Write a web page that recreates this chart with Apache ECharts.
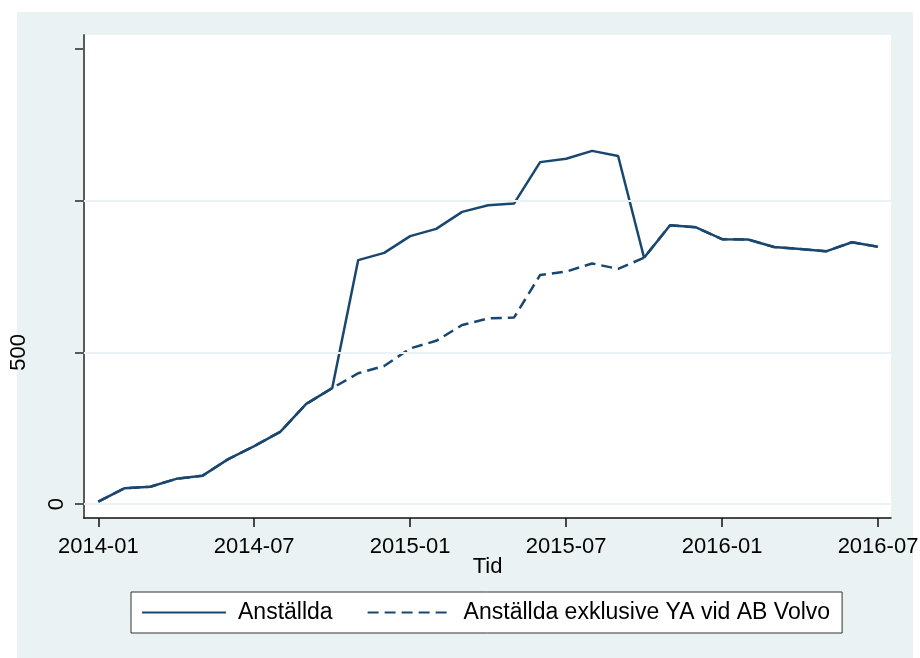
<!DOCTYPE html>
<html>
<head>
<meta charset="utf-8">
<script src="https://cdn.jsdelivr.net/npm/echarts@6/dist/echarts.min.js"></script>
<style>
    html, body {
        margin: 0;
        padding: 0;
        background: #ffffff;
    }
    #bg {
        position: absolute;
        left: 17px;
        top: 12px;
        width: 896px;
        height: 646px;
        background: #eaf2f3;
    }
    #chart {
        position: absolute;
        left: 0;
        top: 0;
        width: 920px;
        height: 658px;
    }
</style>
</head>
<body>
<div id="bg"></div>
<div id="chart"></div>
<script>
// månader, index 0 = 2014-01
const months = [
    '2014-01', '2014-02', '2014-03', '2014-04', '2014-05', '2014-06',
    '2014-07', '2014-08', '2014-09', '2014-10', '2014-11', '2014-12',
    '2015-01', '2015-02', '2015-03', '2015-04', '2015-05', '2015-06',
    '2015-07', '2015-08', '2015-09', '2015-10', '2015-11', '2015-12',
    '2016-01', '2016-02', '2016-03', '2016-04', '2016-05', '2016-06',
    '2016-07'
]
const anstallda = [
    8, 52, 57, 83, 93, 148, 191, 238, 330, 382, 804, 828,
    883, 907, 963, 985, 991, 1127, 1138, 1164, 1147, 812, 919, 912,
    873, 872, 847, 841, 833, 863, 848
]
const exklVolvo = [
    8, 52, 57, 83, 93, 148, 191, 238, 330, 382, 431, 455,
    513, 538, 590, 612, 615, 755, 766, 793, 775, 812, 919, 912,
    873, 872, 847, 841, 833, 863, 848
]
const xTicks = [0, 6, 12, 18, 24, 30]
const yTicks = [0, 500, 1000, 1500]
const yLabels = [0]
const yLabelsFar = [500]
const gridValues = [0, 500, 1000]
const seriesNames = ['Anställda', 'Anställda exklusive YA vid AB Volvo']

const navy = '#1a476f'
const font = 'Liberation Sans, Arial, sans-serif'

const toPairs = arr => arr.map((v, i) => [i, v])

const yRange = { min: -46, max: 1546 }

const option = {
    animation: false,
    textStyle: { fontFamily: font },
    grid: {
        show: true,
        backgroundColor: '#ffffff',
        borderWidth: 0,
        left: 84,
        top: 35,
        width: 807,
        height: 483,
        containLabel: false,
        outerBoundsMode: 'none'
    },
    legend: {
        left: 131,
        top: 592,
        padding: [9, 12, 9, 10],
        backgroundColor: '#ffffff',
        borderColor: '#333333',
        borderWidth: 1,
        borderRadius: 0,
        itemWidth: 84,
        itemHeight: 20,
        itemGap: 34,
        itemStyle: { opacity: 0 },
        textStyle: {
            fontFamily: font,
            fontSize: 23,
            color: '#000000',
            padding: [0, 0, 0, 7]
        },
        data: seriesNames
    },
    xAxis: {
        type: 'value',
        min: -0.55,
        max: 30.5,
        name: 'Tid',
        nameLocation: 'middle',
        nameGap: 38,
        nameMoveOverlap: false,
        nameTextStyle: { fontFamily: font, fontSize: 22, color: '#000000' },
        splitLine: { show: false },
        axisLine: { show: true, onZero: false, lineStyle: { color: '#111111', width: 1.5 } },
        axisTick: {
            show: true,
            length: 9,
            customValues: xTicks,
            lineStyle: { color: '#111111', width: 1.5 }
        },
        axisLabel: {
            customValues: xTicks,
            margin: 18,
            fontFamily: font,
            fontSize: 22,
            color: '#000000',
            formatter: v => months[Math.round(v)] || ''
        }
    },
    yAxis: [
        {
            type: 'value',
            ...yRange,
            splitLine: { show: false },
            axisLine: { show: true, onZero: false, lineStyle: { color: '#5a5a5a', width: 2 } },
            axisTick: {
                show: true,
                length: 9,
                customValues: yTicks,
                lineStyle: { color: '#5a5a5a', width: 2 }
            },
            axisLabel: {
                customValues: yLabels,
                rotate: 90,
                margin: 16,
                fontFamily: font,
                fontSize: 22,
                color: '#000000'
            }
        },
        {
            type: 'value',
            position: 'left',
            offset: 38,
            ...yRange,
            splitLine: { show: false },
            axisLine: { show: false, onZero: false },
            axisTick: { show: false },
            axisLabel: {
                customValues: yLabelsFar,
                rotate: 90,
                margin: 16,
                fontFamily: font,
                fontSize: 22,
                color: '#000000'
            }
        }
    ],
    series: [
        {
            // stödlinjer bakom kurvorna
            type: 'line',
            data: [],
            z: 1,
            silent: true,
            markLine: {
                silent: true,
                symbol: 'none',
                label: { show: false },
                lineStyle: { color: '#eaf2f3', width: 2, type: 'solid' },
                data: gridValues.map(v => ({ yAxis: v }))
            }
        },
        {
            name: seriesNames[0],
            type: 'line',
            symbol: 'none',
            z: 3,
            lineStyle: { color: navy, width: 2.5 },
            itemStyle: { color: navy },
            data: toPairs(anstallda)
        },
        {
            name: seriesNames[1],
            type: 'line',
            symbol: 'none',
            z: 2,
            lineStyle: { color: navy, width: 2.5, type: [11, 6] },
            itemStyle: { color: navy },
            data: toPairs(exklVolvo)
        }
    ]
}

const myChart = echarts.init(document.getElementById('chart'))
myChart.setOption(option)
</script>
</body>
</html>
